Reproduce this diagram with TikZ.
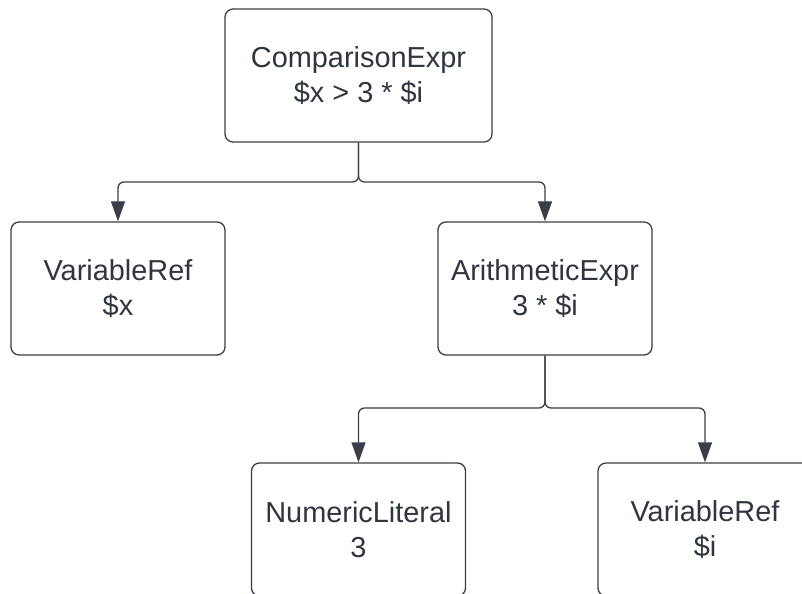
\documentclass[tikz,border=0pt]{standalone}
\usepackage{fontspec}
\setmainfont{Liberation Sans}
\usetikzlibrary{arrows.meta}
\definecolor{linec}{HTML}{3A3F47}
\definecolor{textc}{HTML}{30353F}
\tikzset{
  box/.style={draw=linec, line width=1.3bp, rounded corners=8bp, fill=white,
    minimum width=214bp, minimum height=133bp, inner sep=0pt, align=center,
    text=textc, font=\fontsize{29}{35}\selectfont},
  conn/.style={draw=linec, line width=1.3bp, rounded corners=6bp,
    -{Triangle[width=14bp,length=20bp]}}
}
\begin{document}
\begin{tikzpicture}[x=1bp,y=-1bp]
\clip (0,0) rectangle (802,594);
\useasboundingbox (0,0) rectangle (802,594);
\node[box, minimum width=267bp] (cmp) at (358.5,75.5) {ComparisonExpr\\\$x > 3 * \$i};
\node[box] (var1) at (118,288.5) {VariableRef\\\$x};
\node[box] (arith) at (545,288.5) {ArithmeticExpr\\3 * \$i};
\node[box] (num) at (358.5,529.5) {NumericLiteral\\3};
\node[box] (var2) at (705,529.5) {VariableRef\\\$i};
\coordinate (j1) at (358.5,182);
\coordinate (j2) at (545,408);
\draw[conn] (cmp.south) -- (j1) -| (var1.north);
\draw[conn] (cmp.south) -- (j1) -| (arith.north);
\draw[conn] (arith.south) -- (j2) -| (num.north);
\draw[conn] (arith.south) -- (j2) -| (var2.north);
\end{tikzpicture}
\end{document}
